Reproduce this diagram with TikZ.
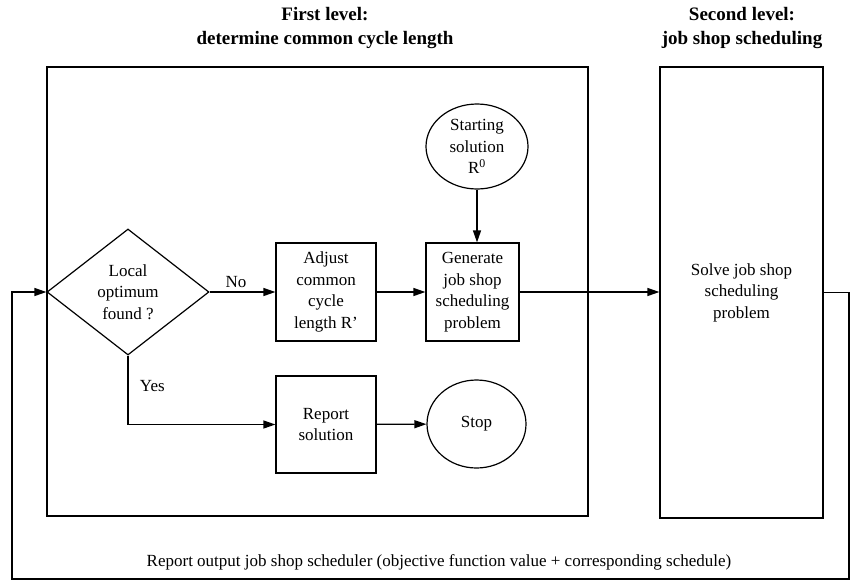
\documentclass[tikz,border=0pt]{standalone}
\usepackage{fontspec}
\setmainfont{Liberation Serif}
\usetikzlibrary{arrows.meta, shapes.geometric}

\begin{document}
\begin{tikzpicture}[x=1pt, y=-1pt,
  txt/.style={font=\fontsize{17}{21.5}\selectfont, align=center},
  box/.style={draw, line width=1.2pt, txt, inner sep=0pt},
  title/.style={font=\fontsize{19}{24}\selectfont\bfseries, align=center},
  flow/.style={line width=1.2pt, -{Triangle[length=12pt,width=8pt]}}]
\useasboundingbox (0,0) rectangle (850,581);
\node at (325,28) [title](lvl1){First level:\\determine common cycle length};
\node at (742,28) [title](lvl2){Second level:\\job shop scheduling};
\node at (317.5,291.5) [box,minimum width=541,minimum height=449](frame1){};
\node at (741.5,292.5) [box,minimum width=163,minimum height=451](solve){Solve job shop\\scheduling\\problem};
%\node at (128,292) [box,diamond](opt){};
\node at (128,292) [box,diamond,aspect=1.29,minimum width=162,minimum height=126](opt){Local\\optimum\\found ?};
\node at (326,292) [box,minimum width=100,minimum height=98](adj){Adjust\\common\\cycle\\length R’};
\node at (472.5,292) [box,minimum width=93,minimum height=98](gen){Generate\\job shop\\scheduling\\problem};
\node at (477,146.5) [box,ellipse,minimum width=102,minimum height=85](start){Starting\\solution\\R\textsuperscript{0}};
\node at (326,424.5) [box,minimum width=100,minimum height=97](rep){Report\\solution};
\node at (476.5,424) [box,ellipse,minimum width=99,minimum height=88](stop){Stop};
\node at (439,562) [txt](out){Report output job shop scheduler (objective function value + corresponding schedule)};
\coordinate (ret1) at (849,292.5);
\coordinate (ret2) at (849,579);
\coordinate (ret3) at (12,579);
\coordinate (ret4) at (12,292);
\draw[flow](opt) -- node[pos=0.4,above,txt]{No} (adj);
\draw[flow](adj) -- (gen);
\draw[flow](start.south) -- (start.south |- gen.north);
\draw[flow](gen) -- (gen -| solve.west);
\draw[flow](opt.south) |- node[pos=0.22,right=8pt,txt]{Yes} (rep.west);
\draw[flow](rep) -- (stop);
\draw[flow](solve.east) -- (ret1) -- (ret2) -- (ret3) -- (ret4) -- (opt.west);
\end{tikzpicture}
\end{document}
